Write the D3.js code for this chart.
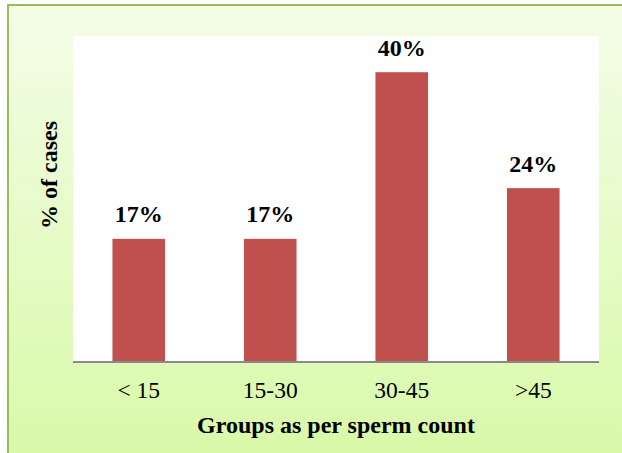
<!DOCTYPE html>
<html><head><meta charset="utf-8">
<script src="https://cdn.jsdelivr.net/npm/d3@7"></script>
<style>html,body{margin:0;padding:0;background:#fff;}svg{display:block;}
text{font-family:"Liberation Serif","Times New Roman",Times,serif;}</style>
</head><body>
<script>
const categories = ["< 15", "15-30", "30-45", ">45"];
const values = [17, 17, 40, 24];
const valueLabels = ["17%", "17%", "40%", "24%"];
const yDomain = [0, 45];

const W = 622, H = 453;
const FONT = '"Liberation Serif","Times New Roman",Times,serif';
const svg = d3.select("body").append("svg").attr("width", W).attr("height", H);
const defs = svg.append("defs");
const grad = defs.append("linearGradient").attr("id", "bg").attr("x1", 0).attr("y1", 0).attr("x2", 0).attr("y2", 1);
grad.append("stop").attr("offset", "0%").attr("stop-color", "#f3fde7");
grad.append("stop").attr("offset", "100%").attr("stop-color", "#d9f9a9");

svg.append("rect").attr("x", 7).attr("y", 4).attr("width", W - 7).attr("height", H - 4).attr("fill", "url(#bg)");
svg.append("line").attr("x1", 7).attr("x2", W).attr("y1", 5).attr("y2", 5).attr("stroke", "#9bbb59").attr("stroke-width", 2);
svg.append("line").attr("x1", 8).attr("x2", 8).attr("y1", 4).attr("y2", H).attr("stroke", "#9bbb59").attr("stroke-width", 2);

const plot = {left: 73, right: 599, top: 36, bottom: 362};
svg.append("rect").attr("x", plot.left).attr("y", plot.top)
  .attr("width", plot.right - plot.left).attr("height", plot.bottom - plot.top).attr("fill", "#fff");

const x = d3.scaleBand().domain(categories).range([plot.left, plot.right]).paddingInner(0.6).paddingOuter(0.3);
const y = d3.scaleLinear().domain(yDomain).range([plot.bottom, plot.top]);

svg.selectAll("rect.bar").data(values).enter().append("rect").attr("class", "bar")
  .attr("x", (d, i) => x(categories[i])).attr("width", x.bandwidth())
  .attr("y", d => y(d)).attr("height", d => y(0) - y(d)).attr("fill", "#c0504d");

svg.selectAll("text.val").data(values).enter().append("text").attr("class", "val")
  .attr("x", (d, i) => x(categories[i]) + x.bandwidth() / 2).attr("y", d => y(d) - 16.5)
  .attr("text-anchor", "middle").style("font-family", FONT)
  .attr("font-weight", "bold").attr("font-size", 24).attr("fill", "#000")
  .text((d, i) => valueLabels[i]);

const xAxis = svg.append("g").attr("transform", `translate(0,${plot.bottom})`)
  .call(d3.axisBottom(x).tickSize(0).tickPadding(0).tickSizeOuter(0));
xAxis.attr("font-family", null);
xAxis.select(".domain").attr("stroke", "#898989").attr("stroke-width", 1.8)
  .attr("d", `M${plot.left},0H${plot.right}`);
xAxis.selectAll("text").style("font-family", FONT)
  .attr("font-size", 23.5).attr("fill", "#000").attr("dy", null).attr("y", 36);

svg.append("text").attr("x", (plot.left + plot.right) / 2).attr("y", 433)
  .attr("text-anchor", "middle").style("font-family", FONT)
  .attr("font-weight", "bold").attr("font-size", 24).attr("fill", "#000")
  .text("Groups as per sperm count");

svg.append("text").attr("transform", "translate(57,175) rotate(-90)")
  .attr("text-anchor", "middle").style("font-family", FONT)
  .attr("font-weight", "bold").attr("font-size", 24).attr("fill", "#000")
  .text("% of cases");
</script>
</body></html>
